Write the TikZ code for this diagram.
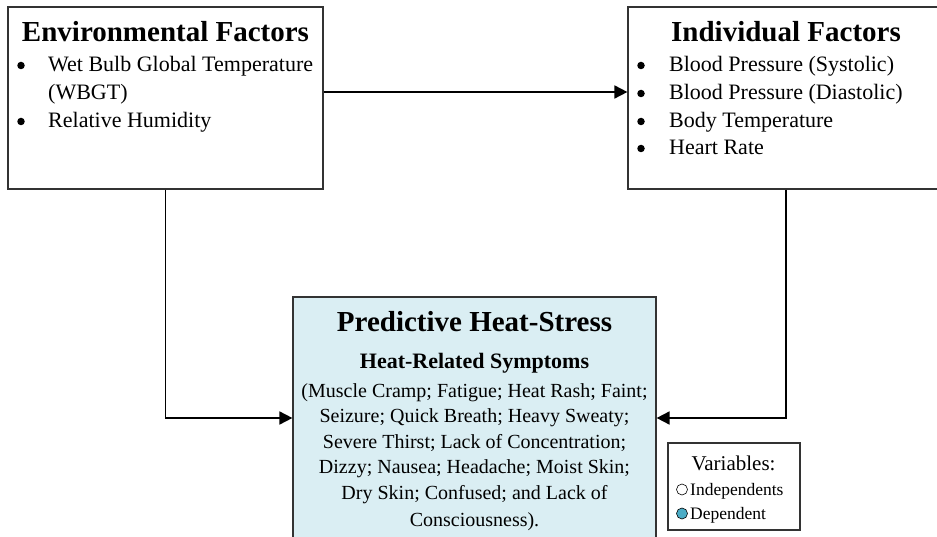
\documentclass[tikz,border=0pt]{standalone}
\usepackage{fontspec}
\setmainfont{Liberation Serif}
\usetikzlibrary{arrows.meta,calc}
\definecolor{predfill}{HTML}{DAEEF3}
\definecolor{depfill}{HTML}{4BACC6}
\begin{document}
\begin{tikzpicture}[x=1pt,y=-1pt,
  box/.style={draw=black!80, line width=1.2pt, rectangle, inner sep=0pt},
  titletxt/.style={font=\fontsize{29}{33}\selectfont\bfseries, anchor=base, inner sep=0pt},
  subtxt/.style={font=\fontsize{22}{26}\selectfont\bfseries, anchor=base, inner sep=0pt},
  bodytxt/.style={font=\fontsize{22}{26}\selectfont, anchor=base west, inner sep=0pt},
  bul/.style={circle, fill=black, inner sep=0pt, minimum size=7.5pt},
  ctxt/.style={font=\fontsize{20}{24}\selectfont, anchor=base, inner sep=0pt},
  legtitle/.style={font=\fontsize{21}{25}\selectfont, anchor=base, inner sep=0pt},
  legtxt/.style={font=\fontsize{17.5}{21}\selectfont, anchor=base west, inner sep=0pt},
  legdot/.style={circle, draw=black, line width=0.6pt, inner sep=0pt, minimum size=11pt},
  conn/.style={line width=1.8pt, -{Triangle[length=13pt,width=13pt]}}
]
\useasboundingbox (0,0) rectangle (937,537);
\clip (0,0) rectangle (937,537);

% boxes
\node[box, minimum width=315pt, minimum height=182pt] (env) at (165.5,98) {};
\node[box, minimum width=316pt, minimum height=182pt] (ind) at (786,98) {};
\node[box, fill=predfill, minimum width=363pt, minimum height=242pt] (pred) at (474.5,418) {};
\node[box, minimum width=132pt, minimum height=87pt] (leg) at (734,486.5) {};

% environmental factors
\node[titletxt] (envT) at (165.5,42) {Environmental Factors};
\node[bul] (envB1) at (21,65.5) {};
\node[bodytxt] (envL1) at (48,72) {Wet Bulb Global Temperature};
\node[bodytxt] (envL1b) at (48,100) {(WBGT)};
\node[bul] (envB2) at (21,121.5) {};
\node[bodytxt] (envL2) at (48,128) {Relative Humidity};

% individual factors
\node[titletxt] (indT) at (786,42) {Individual Factors};
\node[bul] (indB1) at (641,65.5) {};
\node[bodytxt] (indL1) at (669,72) {Blood Pressure (Systolic)};
\node[bul] (indB2) at (641,93.5) {};
\node[bodytxt] (indL2) at (669,100) {Blood Pressure (Diastolic)};
\node[bul] (indB3) at (641,121.5) {};
\node[bodytxt] (indL3) at (669,128) {Body Temperature};
\node[bul] (indB4) at (641,148.5) {};
\node[bodytxt] (indL4) at (669,155) {Heart Rate};

% predictive
\node[titletxt] (predT) at (474.5,331) {Predictive Heat-Stress};
\node[subtxt] (predS) at (474.5,368) {Heat-Related Symptoms};
\node[ctxt] (p1) at (474.5,397) {(Muscle Cramp; Fatigue; Heat Rash; Faint;};
\node[ctxt] (p2) at (474.5,422.5) {Seizure; Quick Breath; Heavy Sweaty;};
\node[ctxt] (p3) at (474.5,448) {Severe Thirst; Lack of Concentration;};
\node[ctxt] (p4) at (474.5,473.5) {Dizzy; Nausea; Headache; Moist Skin;};
\node[ctxt] (p5) at (474.5,499) {Dry Skin; Confused; and Lack of};
\node[ctxt] (p6) at (474.5,526) {Consciousness).};

% legend
\node[legtitle] (legT) at (733.5,470) {Variables:};
\node[legdot, fill=white] (legC1) at (682,489.5) {};
\node[legtxt] (legL1) at (690,495) {Independents};
\node[legdot, fill=depfill] (legC2) at (682,513.5) {};
\node[legtxt] (legL2) at (690,519) {Dependent};

% connectors
\draw[conn] ([yshift=6pt]env.east) -- ([yshift=6pt]env.east -| ind.west);
\draw[conn] (env.south) |- (pred.west);
\draw[conn] (ind.south) |- (pred.east);
\end{tikzpicture}
\end{document}
